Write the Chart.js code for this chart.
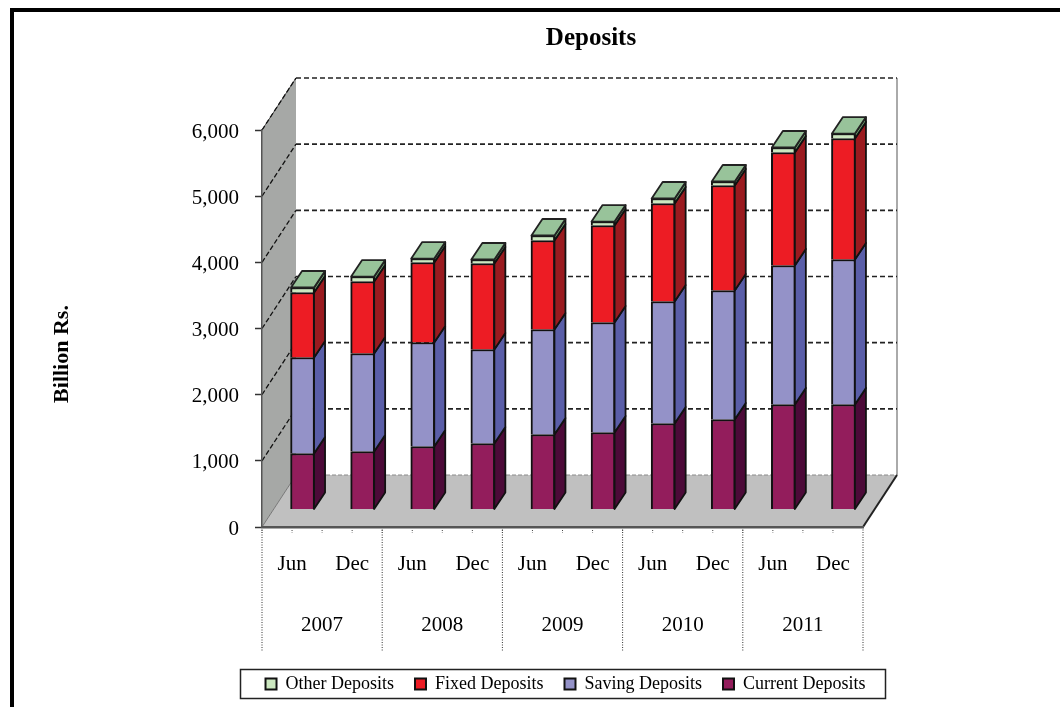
<!DOCTYPE html>
<html>
<head>
<meta charset="utf-8">
<title>Deposits</title>
<script src="https://cdn.jsdelivr.net/npm/chart.js@4/dist/chart.umd.min.js"></script>
<style>
    html, body { margin: 0; padding: 0; background: #fff; }
    canvas { display: block; }
</style>
</head>
<body>
<canvas id="graficoDeposits" width="1060" height="707"></canvas>
<script>
const periods = ['Jun', 'Dec', 'Jun', 'Dec', 'Jun', 'Dec', 'Jun', 'Dec', 'Jun', 'Dec'];
const years = ['2007', '2008', '2009', '2010', '2011'];

const currentDeposits = [846, 877, 952, 997, 1133, 1164, 1300, 1360, 1587, 1587];
const savingDeposits = [1451, 1481, 1572, 1421, 1587, 1662, 1843, 1950, 2101, 2191];
const fixedDeposits = [982, 1088, 1209, 1300, 1345, 1466, 1482, 1587, 1707, 1829];
const otherDeposits = [76, 75, 60, 60, 76, 60, 75, 60, 76, 75];

const FONT = '"Liberation Serif", "Times New Roman", serif';

// depth of the fake 3D box
const WALL_DX = 34, WALL_DY = -52;
const BAR_SHIFT_X = 10.5, BAR_SHIFT_Y = -17.5;
const BAR_DX = 11, BAR_DY = -16.5;

const sideColors = ['#4c0a38', '#5a5ea8', '#9a1a1f', '#6f9f70'];
const TOP_COLOR = '#98c39a';

function poly(ctx, pts, fill, stroke, lw) {
    ctx.beginPath();
    pts.forEach((p, i) => i ? ctx.lineTo(p[0], p[1]) : ctx.moveTo(p[0], p[1]));
    ctx.closePath();
    ctx.fillStyle = fill;
    ctx.fill();
    if (stroke) {
        ctx.strokeStyle = stroke;
        ctx.lineWidth = lw;
        ctx.stroke();
    }
}

function line(ctx, x0, y0, x1, y1, color, lw, dash) {
    ctx.beginPath();
    ctx.setLineDash(dash || []);
    ctx.moveTo(x0, y0);
    ctx.lineTo(x1, y1);
    ctx.strokeStyle = color;
    ctx.lineWidth = lw;
    ctx.stroke();
    ctx.setLineDash([]);
}

const box3d = {
    id: 'box3d',
    afterLayout(chart) {
        // titulo e legenda ficam centrados na caixa 3D, nao no canvas
        const t = chart.titleBlock;
        const dt = 591 - (t.left + t.right) / 2;
        t.left += dt;
        t.right += dt;
        chart.legend.left += 109;
        chart.legend.right += 109;
    },
    beforeDraw(chart) {
        const { ctx, chartArea: a, scales } = chart;
        ctx.save();
        ctx.fillStyle = '#fff';
        ctx.fillRect(0, 0, chart.width, chart.height);

        // moldura
        ctx.fillStyle = '#000';
        ctx.fillRect(10, 8, chart.width - 10, 4);
        ctx.fillRect(10, 8, 4, chart.height - 8);

        // parede esquerda e chao
        poly(ctx, [[a.left, a.bottom], [a.left, a.top], [a.left + WALL_DX, a.top + WALL_DY], [a.left + WALL_DX, a.bottom + WALL_DY]], '#a6a8a6');
        poly(ctx, [[a.left, a.bottom], [a.left + WALL_DX, a.bottom + WALL_DY], [a.right + WALL_DX, a.bottom + WALL_DY], [a.right, a.bottom]], '#c0c0c0');

        line(ctx, a.right + WALL_DX, a.top + WALL_DY, a.right + WALL_DX, a.bottom + WALL_DY, '#aaa', 2);
        line(ctx, a.left + WALL_DX, a.bottom + WALL_DY, a.right + WALL_DX, a.bottom + WALL_DY, '#8a8a8a', 1, [4, 2]);
        line(ctx, a.right, a.bottom, a.right + WALL_DX, a.bottom + WALL_DY, '#222', 2);
        line(ctx, a.left, a.bottom, a.left + WALL_DX, a.bottom + WALL_DY, '#777', 1);
        line(ctx, a.left, a.top, a.left + WALL_DX, a.top + WALL_DY, '#555', 1);

        // grade nas paredes
        scales.y.ticks.forEach(t => {
            if (t.value === 0) return;
            const y = scales.y.getPixelForValue(t.value);
            line(ctx, a.left, y, a.left + WALL_DX, y + WALL_DY, '#111', 1.3, [5, 2.5]);
            line(ctx, a.left + WALL_DX, y + WALL_DY, a.right + WALL_DX, y + WALL_DY, '#222', 1.7, [5, 3]);
        });

        // separadores dos anos e marcas do eixo
        const yearStep = (a.right - a.left) / years.length;
        years.concat(['']).forEach((_, i) => {
            const x = a.left + yearStep * i;
            line(ctx, x, a.bottom, x, 651, '#333', 1, [1, 1.5]);
        });
        periods.forEach((_, i) => {
            const cx = scales.x.getPixelForValue(i);
            const half = (a.right - a.left) / periods.length / 2;
            [cx - half, cx].forEach(x => line(ctx, x, a.bottom + 3, x, a.bottom + 6, '#444', 1, [1, 1.5]));
        });
        ctx.restore();
    },
    beforeDatasetsDraw(chart) {
        chart.ctx.save();
        chart.ctx.translate(BAR_SHIFT_X, BAR_SHIFT_Y);
    },
    afterDatasetsDraw(chart) {
        const ctx = chart.ctx;
        const last = chart.data.datasets.length - 1;
        ctx.lineJoin = 'round';
        chart.data.datasets.forEach((ds, d) => {
            chart.getDatasetMeta(d).data.forEach(bar => {
                const right = bar.x + bar.width / 2 - 0.5;
                poly(ctx, [[right, bar.y], [right, bar.base], [right + BAR_DX, bar.base + BAR_DY], [right + BAR_DX, bar.y + BAR_DY]], sideColors[d], '#111', 1.8);
                if (d === last) {
                    const left = bar.x - bar.width / 2 + 0.5;
                    poly(ctx, [[left, bar.y], [left + BAR_DX, bar.y + BAR_DY], [right + BAR_DX, bar.y + BAR_DY], [right, bar.y]], TOP_COLOR, '#222', 1.8);
                }
            });
        });
        ctx.restore();
    },
    afterDraw(chart) {
        const ctx = chart.ctx;
        ctx.save();
        // titulo do eixo y
        ctx.translate(62, 354);
        ctx.rotate(-Math.PI / 2);
        ctx.font = 'bold 22px ' + FONT;
        ctx.fillStyle = '#000';
        ctx.textAlign = 'center';
        ctx.textBaseline = 'middle';
        ctx.fillText('Billion Rs.', 0, 0);
        ctx.restore();

        // caixa da legenda
        ctx.save();
        ctx.strokeStyle = '#222';
        ctx.lineWidth = 1.5;
        ctx.strokeRect(240.5, 669.5, 645, 29);
        ctx.restore();
    }
};

function serie(label, data, color) {
    return {
        label: label,
        data: data,
        backgroundColor: color,
        borderColor: '#111',
        borderWidth: 2,
        barThickness: 24,
        stack: 'depositos',
        clip: false
    };
}

new Chart(document.getElementById('graficoDeposits'), {
    type: 'bar',
    data: {
        labels: periods,
        datasets: [
            serie('Current Deposits', currentDeposits, '#931d5c'),
            serie('Saving Deposits', savingDeposits, '#9492c8'),
            serie('Fixed Deposits', fixedDeposits, '#ed1c24'),
            serie('Other Deposits', otherDeposits, '#cce8c0')
        ]
    },
    plugins: [box3d],
    options: {
        responsive: false,
        animation: false,
        layout: { padding: { left: 50, right: 197, top: 24, bottom: 4 } },
        plugins: {
            tooltip: { enabled: false },
            title: {
                display: true,
                text: 'Deposits',
                color: '#000',
                font: { family: FONT, size: 25, weight: 'bold' },
                padding: { top: 0, bottom: 76 }
            },
            legend: {
                position: 'bottom',
                reverse: true,
                labels: {
                    color: '#000',
                    boxWidth: 11,
                    boxHeight: 11,
                    padding: 21,
                    font: { family: FONT, size: 18 }
                }
            }
        },
        scales: {
            x: {
                stacked: true,
                grid: { display: false },
                border: { display: true, color: '#555', width: 2.5 },
                ticks: {
                    color: '#000',
                    padding: 17,
                    autoSkip: false,
                    maxRotation: 0,
                    font: { family: FONT, size: 21 }
                },
                afterFit(scale) { scale.height = 60; }
            },
            x2: {
                type: 'category',
                labels: years,
                position: 'bottom',
                offset: true,
                grid: { display: false },
                border: { display: false },
                ticks: {
                    color: '#000',
                    padding: 18,
                    maxRotation: 0,
                    font: { family: FONT, size: 21 }
                },
                afterFit(scale) { scale.height = 67; }
            },
            y: {
                stacked: true,
                min: 0,
                max: 6000,
                grid: {
                    drawOnChartArea: false,
                    tickLength: 7,
                    tickColor: '#333',
                    tickWidth: 1.5
                },
                border: { display: true, color: '#555', width: 1.5 },
                ticks: {
                    stepSize: 1000,
                    color: '#000',
                    padding: 16,
                    labelOffset: 2,
                    font: { family: FONT, size: 21 },
                    callback: v => v.toLocaleString('en-US')
                },
                afterFit(scale) { scale.width = 212; }
            }
        }
    }
});
</script>
</body>
</html>
